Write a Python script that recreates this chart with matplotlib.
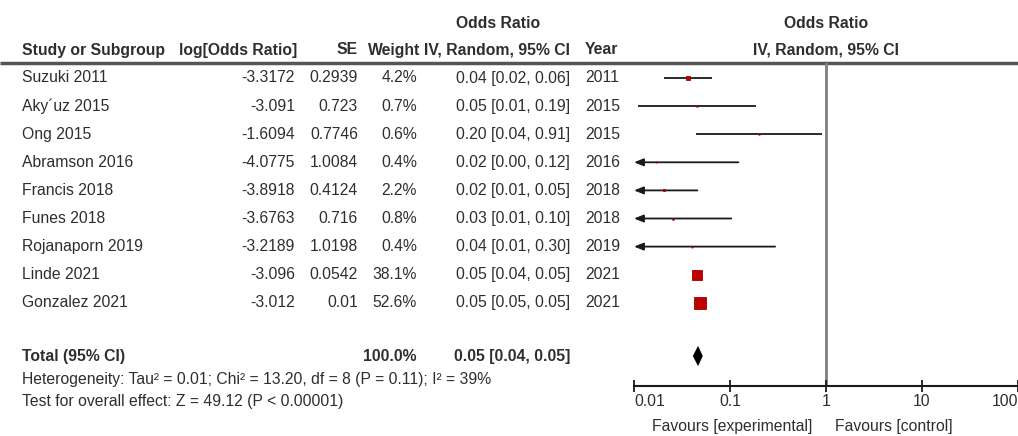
import numpy as np
import matplotlib
matplotlib.use("Agg")
import matplotlib.pyplot as plt
from matplotlib.transforms import blended_transform_factory

plt.rcParams["font.family"] = ["Liberation Sans", "DejaVu Sans"]

studies = ["Suzuki 2011", "Aky\u00b4uz 2015", "Ong 2015", "Abramson 2016", "Francis 2018",
           "Funes 2018", "Rojanaporn 2019", "Linde 2021", "Gonzalez 2021"]
log_or = [-3.3172, -3.091, -1.6094, -4.0775, -3.8918, -3.6763, -3.2189, -3.096, -3.012]
se = [0.2939, 0.723, 0.7746, 1.0084, 0.4124, 0.716, 1.0198, 0.0542, 0.01]
weight = [4.2, 0.7, 0.6, 0.4, 2.2, 0.8, 0.4, 38.1, 52.6]
ci_text = ["0.04 [0.02, 0.06]", "0.05 [0.01, 0.19]", "0.20 [0.04, 0.91]", "0.02 [0.00, 0.12]",
           "0.02 [0.01, 0.05]", "0.03 [0.01, 0.10]", "0.04 [0.01, 0.30]", "0.05 [0.04, 0.05]",
           "0.05 [0.05, 0.05]"]
years = [2011, 2015, 2015, 2016, 2018, 2018, 2019, 2021, 2021]

total_est, total_low, total_high = 0.0465, 0.041, 0.052
total_weight = "100.0%"
total_ci = "0.05 [0.04, 0.05]"
heterogeneity = "Heterogeneity: Tau\u00b2 = 0.01; Chi\u00b2 = 13.20, df = 8 (P = 0.11); I\u00b2 = 39%"
overall = "Test for overall effect: Z = 49.12 (P < 0.00001)"
ticks = [0.01, 0.1, 1, 10, 100]
tick_labels = ["0.01", "0.1", "1", "10", "100"]

W, H = 1018, 436
txt = "#2e2e2e"
fs = 11.3

fig = plt.figure(figsize=(W / 100, H / 100), dpi=100)
tab = fig.add_axes([0, 0, 1, 1])
tab.set_xlim(0, W)
tab.set_ylim(H, 0)
tab.axis("off")

# forest plot axis: 0.01 at x=634px, 100 at right edge; rows 28.1px apart from y=78px
y0, dy = 78, 28.1
ax = fig.add_axes([634 / W, (H - 386) / H, (W - 634) / W, (386 - 63) / H])
ax.patch.set_visible(False)
ax.set_xscale("log")
ax.set_xlim(0.01, 100)
ax.set_ylim((386 - y0) / dy, (63 - y0) / dy)

rows = np.arange(len(studies))
total_row = (356 - y0) / dy
tr = blended_transform_factory(tab.transData, ax.transData)

# headers
hdr = dict(fontsize=fs, fontweight="bold", color=txt, va="center")
tab.text(498, 23, "Odds Ratio", ha="center", **hdr)
tab.text(826, 23, "Odds Ratio", ha="center", **hdr)
tab.text(22, 50, "Study or Subgroup", ha="left", **hdr)
tab.text(297, 50, "log[Odds Ratio]", ha="right", **hdr)
tab.text(358, 50, "SE", ha="right", **hdr)
tab.text(420, 50, "Weight", ha="right", **hdr)
tab.text(570, 50, "IV, Random, 95% CI", ha="right", **hdr)
tab.text(585, 50, "Year", ha="left", **hdr)
tab.text(826, 50, "IV, Random, 95% CI", ha="center", **hdr)
tab.plot([0, W], [63, 63], color="#555555", lw=2.5, solid_capstyle="butt")

# study rows
reg = dict(fontsize=fs, color=txt, va="center", transform=tr)
for i in rows:
    tab.text(22, i, studies[i], ha="left", **reg)
    tab.text(295, i, str(log_or[i]), ha="right", **reg)
    tab.text(358, i, str(se[i]), ha="right", **reg)
    tab.text(417, i, f"{weight[i]:.1f}%", ha="right", **reg)
    tab.text(570, i, ci_text[i], ha="right", **reg)
    tab.text(585, i, str(years[i]), ha="left", **reg)

bold = dict(reg, fontweight="bold")
tab.text(22, total_row, "Total (95% CI)", ha="left", **bold)
tab.text(417, total_row, total_weight, ha="right", **bold)
tab.text(570, total_row, total_ci, ha="right", **bold)
tab.text(22, 379, heterogeneity, ha="left", va="center", fontsize=fs, color=txt)
tab.text(22, 401, overall, ha="left", va="center", fontsize=fs, color=txt)

# confidence intervals
est = np.exp(log_or)
lo = np.exp(np.array(log_or) - 1.96 * np.array(se))
hi = np.exp(np.array(log_or) + 1.96 * np.array(se))
for i in rows:
    if lo[i] < 0.01:
        ax.annotate("", xy=(0.01, i), xytext=(hi[i], i),
                    arrowprops=dict(arrowstyle="-|>,head_length=0.55,head_width=0.22",
                                    color="#1a1a1a", lw=1.3, shrinkA=0, shrinkB=0))
    else:
        ax.plot([lo[i], hi[i]], [i, i], color="#1a1a1a", lw=1.3, solid_capstyle="butt")
    ax.plot(est[i], i, marker="s", ms=1.24 * np.sqrt(weight[i]),
            mfc="#c00000", mec="#9a0000", mew=0.6, ls="none", zorder=3)

# pooled diamond
ax.fill([total_low, total_est, total_high, total_est],
        [total_row, total_row - 0.36, total_row, total_row + 0.36],
        color="black", lw=0)

ax.axvline(1, color="#7f7f7f", lw=2, zorder=0)

for s in ["top", "left", "right"]:
    ax.spines[s].set_visible(False)
ax.spines["bottom"].set_linewidth(1.5)
ax.spines["bottom"].set_color("#1a1a1a")
ax.set_yticks([])
ax.set_xticks(ticks)
ax.set_xticklabels(tick_labels)
ax.xaxis.set_minor_locator(matplotlib.ticker.NullLocator())
ax.tick_params(axis="x", direction="inout", length=8, width=1.3, color="#1a1a1a",
               labelsize=fs, labelcolor=txt, pad=2)
labels = ax.get_xticklabels()
labels[0].set_ha("left")
labels[-1].set_ha("right")

tab.text(812, 426, "Favours [experimental]", ha="right", va="center", fontsize=fs, color=txt)
tab.text(835, 426, "Favours [control]", ha="left", va="center", fontsize=fs, color=txt)

fig.savefig("out.png", dpi=100)
